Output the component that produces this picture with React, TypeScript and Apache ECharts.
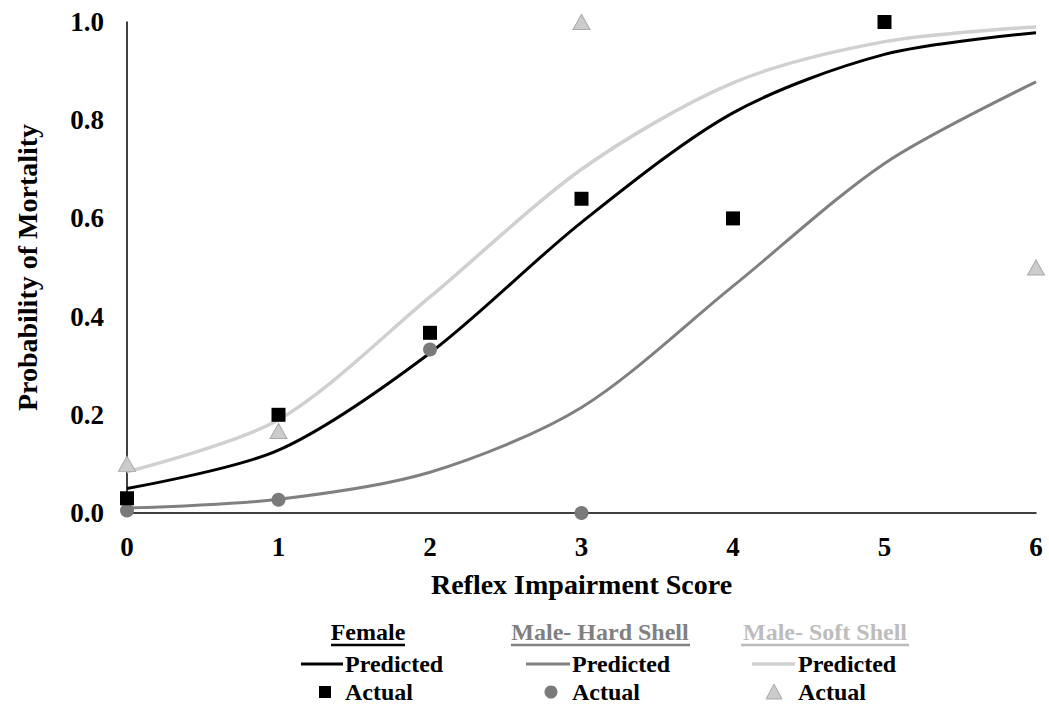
import React, { useEffect, useRef } from "react";
import * as echarts from "echarts";

// Reflex impairment scores along the x axis
const scores = [0, 1, 2, 3, 4, 5, 6];

// Predicted probability of mortality (logistic fits) per group
const femalePredicted = [0.05, 0.128, 0.326, 0.592, 0.815, 0.934, 0.978];
const hardPredicted = [0.01, 0.028, 0.083, 0.215, 0.462, 0.712, 0.878];
const softPredicted = [0.084, 0.19, 0.44, 0.7, 0.876, 0.96, 0.99];

// Observed proportions
const femaleActualX = [0, 1, 2, 3, 4, 5];
const femaleActual = [0.03, 0.2, 0.367, 0.64, 0.6, 1.0];
const hardActualX = [0, 1, 2, 3];
const hardActual = [0.005, 0.027, 0.333, 0.0];
const softActualX = [0, 1, 3, 6];
const softActual = [0.1, 0.167, 1.0, 0.5];

const yTicks = [0, 0.2, 0.4, 0.6, 0.8, 1.0];

const FONT = "Liberation Serif";
const BLACK = "#000000";
const GRAY = "#808080";
const LIGHT = "#d0d0d0";
const HEADER_LIGHT = "#bdbdbd";

function pairs(xs: number[], ys: number[]) {
  return xs.map((x, i) => [x, ys[i]]);
}

export default function App() {
  const ref = useRef<HTMLDivElement>(null);

  useEffect(() => {
    if (!ref.current) return;
    const chart = echarts.init(ref.current, undefined, { renderer: "svg" });

    const legendText = (text: string, x: number, y: number, fill = BLACK, align = "left") => ({
      type: "text",
      x,
      y,
      style: {
        text,
        fill,
        fontFamily: FONT,
        fontWeight: "bold",
        fontSize: 24,
        align,
        verticalAlign: "middle",
      },
    });
    const hLine = (x1: number, x2: number, y: number, stroke: string, lineWidth: number) => ({
      type: "line",
      shape: { x1, y1: y, x2, y2: y },
      style: { stroke, lineWidth },
    });

    const option: any = {
      animation: false,
      backgroundColor: "#ffffff",
      textStyle: { fontFamily: FONT },
      grid: { left: 127, right: 13, top: 22, bottom: 193, containLabel: false },
      xAxis: {
        type: "value",
        min: 0,
        max: 6,
        interval: 1,
        name: "Reflex Impairment Score",
        nameLocation: "middle",
        nameGap: 57,
        nameTextStyle: { fontFamily: FONT, fontWeight: "bold", fontSize: 28, color: BLACK },
        axisLine: { show: true, lineStyle: { color: BLACK, width: 1.5 } },
        axisTick: { show: false },
        splitLine: { show: false },
        axisLabel: {
          fontFamily: FONT,
          fontWeight: "bold",
          fontSize: 27,
          color: BLACK,
          margin: 20,
        },
      },
      yAxis: {
        type: "value",
        min: 0,
        max: 1,
        interval: 0.2,
        name: "Probability of Mortality",
        nameLocation: "middle",
        nameGap: 86,
        nameTextStyle: { fontFamily: FONT, fontWeight: "bold", fontSize: 28, color: BLACK },
        axisLine: { show: true, onZero: false, lineStyle: { color: BLACK, width: 1.5 } },
        axisTick: { show: false },
        splitLine: { show: false },
        axisLabel: {
          fontFamily: FONT,
          fontWeight: "bold",
          fontSize: 27,
          color: BLACK,
          margin: 23,
          formatter: (v: number) => (yTicks.some((t) => Math.abs(t - v) < 1e-9) ? v.toFixed(1) : ""),
        },
      },
      series: [
        {
          name: "Male- Soft Shell Predicted",
          type: "line",
          data: pairs(scores, softPredicted),
          smooth: 0.3,
          showSymbol: false,
          lineStyle: { color: LIGHT, width: 3.5 },
          z: 2,
        },
        {
          name: "Male- Hard Shell Predicted",
          type: "line",
          data: pairs(scores, hardPredicted),
          smooth: 0.3,
          showSymbol: false,
          lineStyle: { color: GRAY, width: 3 },
          z: 3,
        },
        {
          name: "Female Predicted",
          type: "line",
          data: pairs(scores, femalePredicted),
          smooth: 0.3,
          showSymbol: false,
          lineStyle: { color: BLACK, width: 3 },
          z: 4,
        },
        {
          name: "Male- Soft Shell Actual",
          type: "scatter",
          data: pairs(softActualX, softActual),
          symbol: "triangle",
          symbolSize: [17, 15],
          itemStyle: { color: "#cccccc", borderColor: "#a9a9a9", borderWidth: 1, opacity: 1 },
          z: 5,
        },
        {
          name: "Male- Hard Shell Actual",
          type: "scatter",
          data: pairs(hardActualX, hardActual),
          symbol: "circle",
          symbolSize: 14,
          itemStyle: { color: "#7a7a7a", opacity: 1 },
          z: 6,
        },
        {
          name: "Female Actual",
          type: "scatter",
          data: pairs(femaleActualX, femaleActual),
          symbol: "rect",
          symbolSize: 14,
          itemStyle: { color: BLACK, opacity: 1 },
          z: 7,
        },
      ],
      graphic: [
        // Group headers with underlines
        legendText("Female", 368, 632, BLACK, "center"),
        hLine(331, 405, 645, BLACK, 2.5),
        legendText("Male- Hard Shell", 600, 632, GRAY, "center"),
        hLine(511, 690, 645, GRAY, 2.5),
        legendText("Male- Soft Shell", 825, 632, HEADER_LIGHT, "center"),
        hLine(741, 909, 645, HEADER_LIGHT, 2.5),
        // Predicted row
        hLine(301, 343, 664, BLACK, 3),
        legendText("Predicted", 345, 664),
        hLine(526, 570, 664, GRAY, 3),
        legendText("Predicted", 572, 664),
        hLine(752, 795, 664, LIGHT, 3.5),
        legendText("Predicted", 798, 664),
        // Actual row
        {
          type: "rect",
          shape: { x: 319, y: 686, width: 12, height: 12 },
          style: { fill: BLACK },
        },
        legendText("Actual", 345, 692),
        {
          type: "circle",
          shape: { cx: 551, cy: 692, r: 6.5 },
          style: { fill: "#7a7a7a" },
        },
        legendText("Actual", 572, 692),
        {
          type: "polygon",
          shape: { points: [[774, 684], [782, 699], [766, 699]] },
          style: { fill: "#cccccc", stroke: "#a9a9a9", lineWidth: 1 },
        },
        legendText("Actual", 798, 692),
      ],
    };

    chart.setOption(option);
    return () => chart.dispose();
  }, []);

  return (
    <div
      ref={ref}
      style={{ position: "fixed", left: 0, top: 0, width: 1049, height: 706, background: "#fff" }}
    />
  );
}
